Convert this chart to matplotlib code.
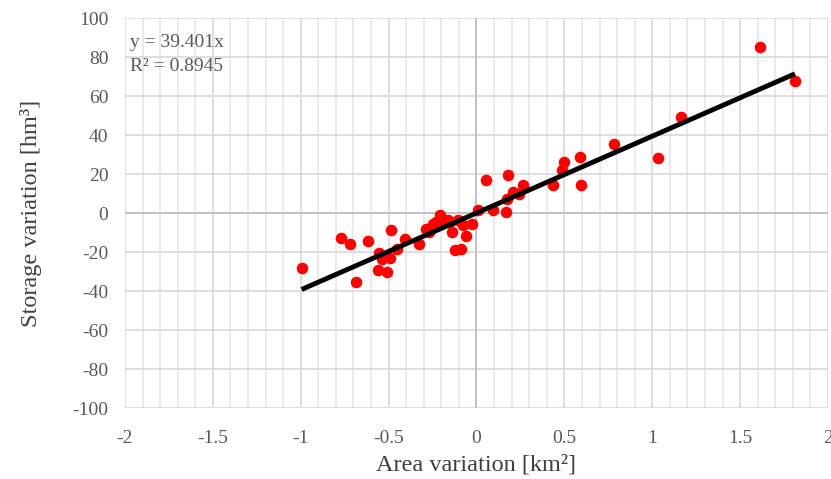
import numpy as np
import matplotlib.pyplot as plt
from matplotlib.ticker import MultipleLocator

# area variation [km2] and storage variation [hm3]
area = [-0.995, -0.772, -0.719, -0.683, -0.620, -0.556, -0.560, -0.512,
        -0.539, -0.493, -0.484, -0.455, -0.404, -0.328, -0.285, -0.270,
        -0.247, -0.228, -0.209, -0.190, -0.162, -0.152, -0.142, -0.124,
        -0.091, -0.105, -0.076, -0.057, -0.025, 0.009, 0.053, 0.094,
        0.167, 0.180, 0.171, 0.208, 0.242, 0.265, 0.433, 0.484,
        0.497, 0.588, 0.594, 0.781, 1.030, 1.163, 1.613, 1.812]
storage = [-28.2, -12.8, -16.1, -35.6, -14.4, -20.3, -29.4, -30.3,
           -23.4, -22.9, -8.7, -18.3, -13.2, -16.1, -8.0, -9.8,
           -5.4, -4.6, -1.2, -4.6, -3.7, -4.6, -9.8, -19.2,
           -18.3, -3.7, -6.3, -12.0, -5.4, 1.7, 16.8, 1.4,
           0.5, 19.4, 7.4, 10.8, 10.0, 14.2, 14.2, 21.9,
           26.2, 28.8, 14.6, 35.6, 28.2, 49.0, 85.3, 67.6]

slope = 39.401
r2 = 0.8945

plt.rcParams['font.family'] = ['Liberation Serif', 'DejaVu Serif']
plt.rcParams['axes.unicode_minus'] = False

fig = plt.figure(figsize=(8.31, 4.79), dpi=100)
ax = fig.add_axes([0.1504, 0.1482, 0.846, 0.8142])

ax.set_xlim(-2, 2)
ax.set_ylim(-100, 100)
ax.xaxis.set_major_locator(MultipleLocator(0.5))
ax.xaxis.set_minor_locator(MultipleLocator(0.1))
ax.yaxis.set_major_locator(MultipleLocator(20))

ax.grid(which='minor', axis='x', color='#e6e6e6', lw=1.2)
ax.grid(which='major', axis='x', color='#d9d9d9', lw=1.2)
ax.grid(which='major', axis='y', color='#d9d9d9', lw=1.2)
ax.axhline(0, color='#bfbfbf', lw=1.3, zorder=1)
ax.axvline(0, color='#bfbfbf', lw=1.3, zorder=1)
ax.set_axisbelow(True)
for s in ax.spines.values():
    s.set_visible(False)

ax.tick_params(which='both', length=0, labelsize=14, colors='#595959')
ax.tick_params(axis='x', pad=16)
ax.tick_params(axis='y', pad=12)
ax.xaxis.set_major_formatter(lambda v, p: f'{v:g}')

ax.scatter(area, storage, s=70, color='#ff0000', zorder=3, linewidths=0)

# linear trend through origin over data range
xs = np.array([min(area), max(area)])
ax.plot(xs, slope * xs, color='black', lw=3.5, zorder=4, solid_capstyle='butt')

ax.text(-1.97, 87.2, f'y = {slope}x', color='#595959', fontsize=14,
        va='center', ha='left')
ax.text(-1.97, 75.3, f'R² = {r2}', color='#595959', fontsize=14,
        va='center', ha='left')

ax.set_xlabel('Area variation [km²]', fontsize=17.5, color='#404040', labelpad=5)
ax.set_ylabel('Storage variation [hm³]', fontsize=17.5, color='#404040', labelpad=22)

fig.savefig('out.png', dpi=100)
